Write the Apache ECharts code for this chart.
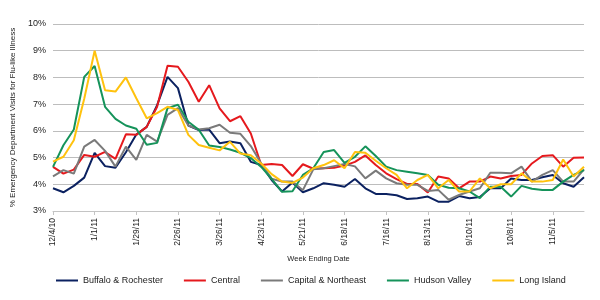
<!DOCTYPE html>
<html>
<head>
<meta charset="utf-8">
<script src="https://cdn.jsdelivr.net/npm/echarts@6/dist/echarts.min.js"></script>
<style>
    html, body { margin: 0; padding: 0; background: #fff; }
    #chart { width: 600px; height: 300px; }
</style>
</head>
<body>
<div id="chart"></div>
<script>
    // week ending dates
    var weeks = ['12/4/10', '12/11/10', '12/18/10', '12/25/10', '1/1/11', '1/8/11', '1/15/11', '1/22/11',
        '1/29/11', '2/5/11', '2/12/11', '2/19/11', '2/26/11', '3/5/11', '3/12/11', '3/19/11', '3/26/11',
        '4/2/11', '4/9/11', '4/16/11', '4/23/11', '4/30/11', '5/7/11', '5/14/11', '5/21/11', '5/28/11',
        '6/4/11', '6/11/11', '6/18/11', '6/25/11', '7/2/11', '7/9/11', '7/16/11', '7/23/11', '7/30/11',
        '8/6/11', '8/13/11', '8/20/11', '8/27/11', '9/3/11', '9/10/11', '9/17/11', '9/24/11', '10/1/11',
        '10/8/11', '10/15/11', '10/22/11', '10/29/11', '11/5/11', '11/12/11', '11/19/11', '11/26/11'];

    // % of ED visits for flu-like illness, by region
    var buffalo = [3.85, 3.7, 3.94, 4.25, 5.18, 4.68, 4.62, 5.2, 5.86, 6.15, 6.96, 8.02, 7.6, 6.2, 6.03, 6.05,
        5.54, 5.6, 5.54, 4.84, 4.72, 4.16, 3.73, 4.07, 3.7, 3.85, 4.04, 3.98, 3.91, 4.2, 3.85, 3.64, 3.64,
        3.59, 3.45, 3.48, 3.54, 3.35, 3.35, 3.56, 3.48, 3.52, 3.85, 3.85, 4.22, 4.16, 4.16, 4.26, 4.35,
        4.04, 3.91, 4.26];
    var central = [4.65, 4.4, 4.55, 5.1, 5.03, 5.21, 4.95, 5.87, 5.85, 6.15, 6.9, 8.44, 8.4, 7.84, 7.09, 7.71,
        6.84, 6.36, 6.55, 5.9, 4.72, 4.76, 4.72, 4.31, 4.75, 4.58, 4.6, 4.62, 4.7, 4.84, 5.08, 4.72, 4.41,
        4.19, 4.01, 4.01, 3.69, 4.29, 4.22, 3.85, 4.1, 4.1, 4.29, 4.22, 4.31, 4.35, 4.78, 5.06, 5.09, 4.66,
        4.99, 5.0];
    var capital = [4.3, 4.53, 4.4, 5.41, 5.66, 5.25, 4.66, 5.41, 4.91, 5.85, 5.6, 6.6, 6.85, 6.2, 6.05, 6.1,
        6.23, 5.93, 5.89, 5.43, 4.78, 4.21, 4.1, 4.1, 3.78, 4.56, 4.6, 4.68, 4.76, 4.67, 4.22, 4.51, 4.22,
        4.04, 3.98, 3.98, 3.75, 3.79, 3.42, 3.6, 3.73, 3.85, 4.43, 4.43, 4.41, 4.66, 4.1, 4.35, 4.53, 4.1,
        4.1, 4.56];
    var hudson = [4.65, 5.46, 6.05, 8.02, 8.43, 6.9, 6.45, 6.2, 6.08, 5.48, 5.55, 6.85, 6.98, 6.34, 6.04, 5.45,
        5.4, 5.3, 5.18, 4.98, 4.65, 4.2, 3.72, 3.74, 4.35, 4.6, 5.21, 5.28, 4.8, 5.03, 5.42, 5.06, 4.66,
        4.53, 4.47, 4.41, 4.35, 3.98, 3.87, 3.85, 3.73, 3.48, 3.91, 3.91, 3.54, 3.94, 3.83, 3.79, 3.79,
        4.1, 4.35, 4.53];
    var longIsland = [4.85, 5.03, 5.65, 7.2, 9.0, 7.52, 7.47, 8.0, 7.22, 6.47, 6.66, 6.9, 6.78, 5.85, 5.47, 5.37,
        5.27, 5.59, 5.15, 5.09, 4.78, 4.38, 4.1, 4.05, 4.25, 4.6, 4.72, 4.9, 4.6, 5.21, 5.18, 4.88, 4.6,
        4.35, 3.85, 4.16, 4.35, 3.85, 4.16, 3.73, 3.73, 4.22, 3.85, 4.0, 4.0, 4.41, 4.1, 4.1, 4.16, 4.93,
        4.29, 4.66];

    var seriesNames = ['Buffalo & Rochester', 'Central', 'Capital & Northeast', 'Hudson Valley', 'Long Island'];
    var seriesData = [buffalo, central, capital, hudson, longIsland];
    var colors = ['#0b2160', '#e5191d', '#7a7a7a', '#15935a', '#ffc20e'];

    var font = 'Liberation Sans, Arial, sans-serif';

    var chart = echarts.init(document.getElementById('chart'));
    chart.setOption({
        animation: false,
        color: colors,
        grid: {
            left: 53,
            right: 16,
            top: 24,
            bottom: 89
        },
        legend: {
            data: seriesNames,
            left: 51,
            top: 271,
            icon: 'rect',
            itemWidth: 22,
            itemHeight: 2,
            itemGap: 21,
            textStyle: { fontFamily: font, fontSize: 9, color: '#222' }
        },
        xAxis: {
            type: 'category',
            data: weeks,
            boundaryGap: false,
            name: 'Week Ending Date',
            nameLocation: 'middle',
            nameGap: 44,
            nameTextStyle: { fontFamily: font, fontSize: 7.5, color: '#222' },
            axisLine: { lineStyle: { color: '#c4c4c4', width: 1 } },
            axisTick: { interval: 3, length: 4, lineStyle: { color: '#c4c4c4' } },
            axisLabel: {
                interval: 3,
                rotate: 90,
                margin: 7,
                fontFamily: font,
                fontSize: 8.5,
                color: '#222'
            },
            splitLine: { show: false }
        },
        yAxis: {
            type: 'value',
            min: 3,
            max: 10,
            interval: 1,
            name: '% Emergency Department Visits for Flu-like Illness',
            nameLocation: 'middle',
            nameGap: 34,
            nameRotate: 90,
            nameTextStyle: { fontFamily: font, fontSize: 8, color: '#222' },
            axisLine: { show: false },
            axisTick: { show: false },
            axisLabel: {
                formatter: '{value}%',
                margin: 7,
                fontFamily: font,
                fontSize: 9,
                color: '#222'
            },
            splitLine: { lineStyle: { color: '#bdbdbd', width: 1 } }
        },
        series: seriesNames.map(function (name, i) {
            return {
                name: name,
                type: 'line',
                data: seriesData[i],
                symbol: 'none',
                lineStyle: { width: 2 }
            };
        })
    });
</script>
</body>
</html>
